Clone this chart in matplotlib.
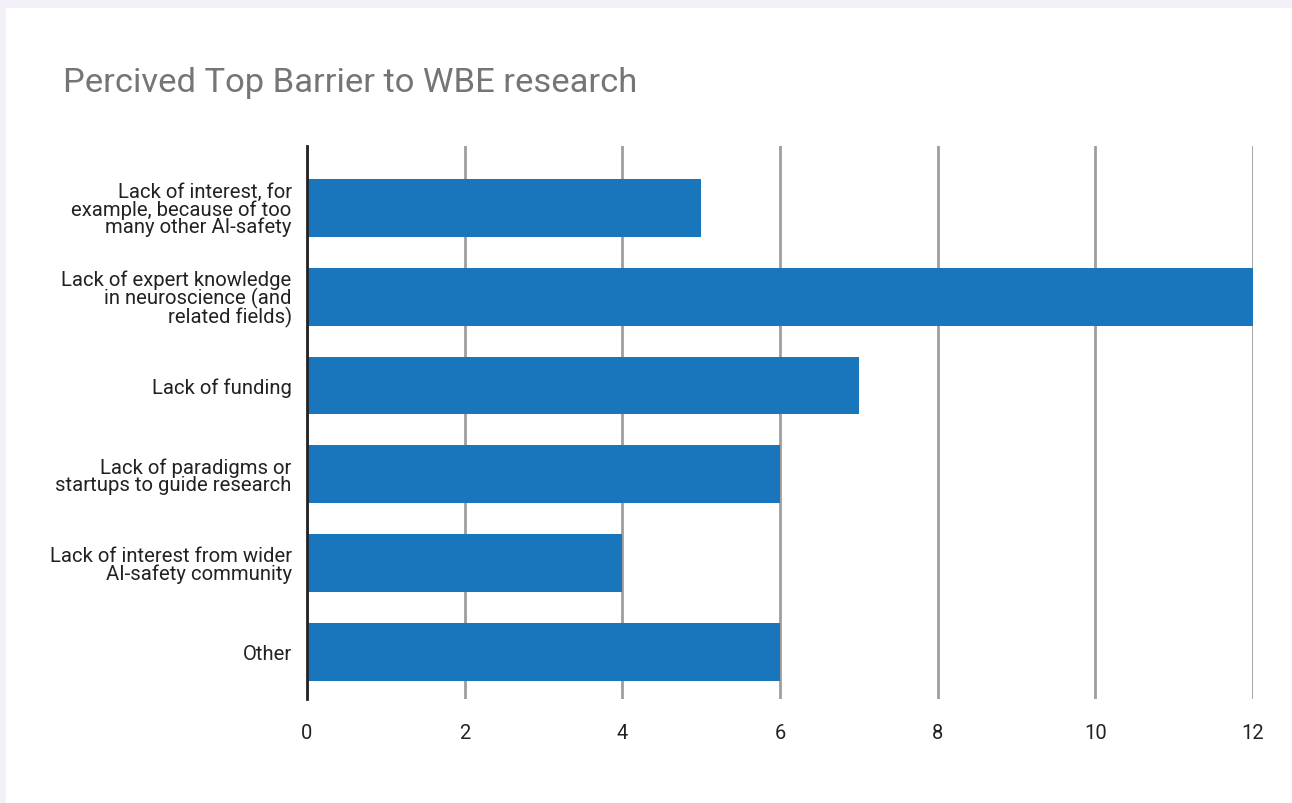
import matplotlib.pyplot as plt
from matplotlib.patches import Rectangle

# data
categories = ['Lack of interest, for\nexample, because of too\nmany other AI-safety',
              'Lack of expert knowledge\nin neuroscience (and\nrelated fields)',
              'Lack of funding',
              'Lack of paradigms or\nstartups to guide research',
              'Lack of interest from wider\nAI-safety community',
              'Other']
values = [5, 12, 7, 6, 4, 6]
xticks = [0, 2, 4, 6, 8, 10, 12]

plt.rcParams['font.family'] = ['Roboto', 'DejaVu Sans']

fig = plt.figure(figsize=(12.92, 8.04), dpi=100)
fig.patch.set_facecolor('#f3f1f7')
# white card
fig.patches.append(Rectangle((6/1292, 0), 1, 1 - 9/804, transform=fig.transFigure,
                             facecolor='white', edgecolor='none', zorder=-5))

ax = fig.add_axes([307/1292, 1 - 700/804, 946/1292, 553/804])
ax.set_facecolor('none')
ax.set_zorder(2)

ypos = list(range(len(categories)))
ax.barh(ypos, values, height=0.65, color='#1a76bc', zorder=3)

ax.set_xlim(0, 12)
ax.set_ylim(5.53, -0.698)
ax.set_xticks(xticks)
ax.set_xticklabels([str(t) for t in xticks])
ax.set_yticks(ypos)
ax.set_yticklabels(categories, linespacing=0.88)

ax.grid(axis='x', color='#9e9e9e', linewidth=2, zorder=1)
for s in ['top', 'right', 'bottom']:
    ax.spines[s].set_visible(False)
ax.spines['left'].set_color('#222222')
ax.spines['left'].set_linewidth(2)
ax.spines['left'].set_zorder(4)
ax.tick_params(axis='both', length=0, colors='#222222')
ax.tick_params(axis='x', pad=17, labelsize=14.5)
ax.tick_params(axis='y', pad=11, labelsize=14.6)

fig.text(63/1292, 1 - 83/804, 'Percived Top Barrier to WBE research', fontsize=24.8,
         color='#757575', va='center', ha='left')

fig.savefig('out.png', dpi=100, facecolor=fig.get_facecolor())
